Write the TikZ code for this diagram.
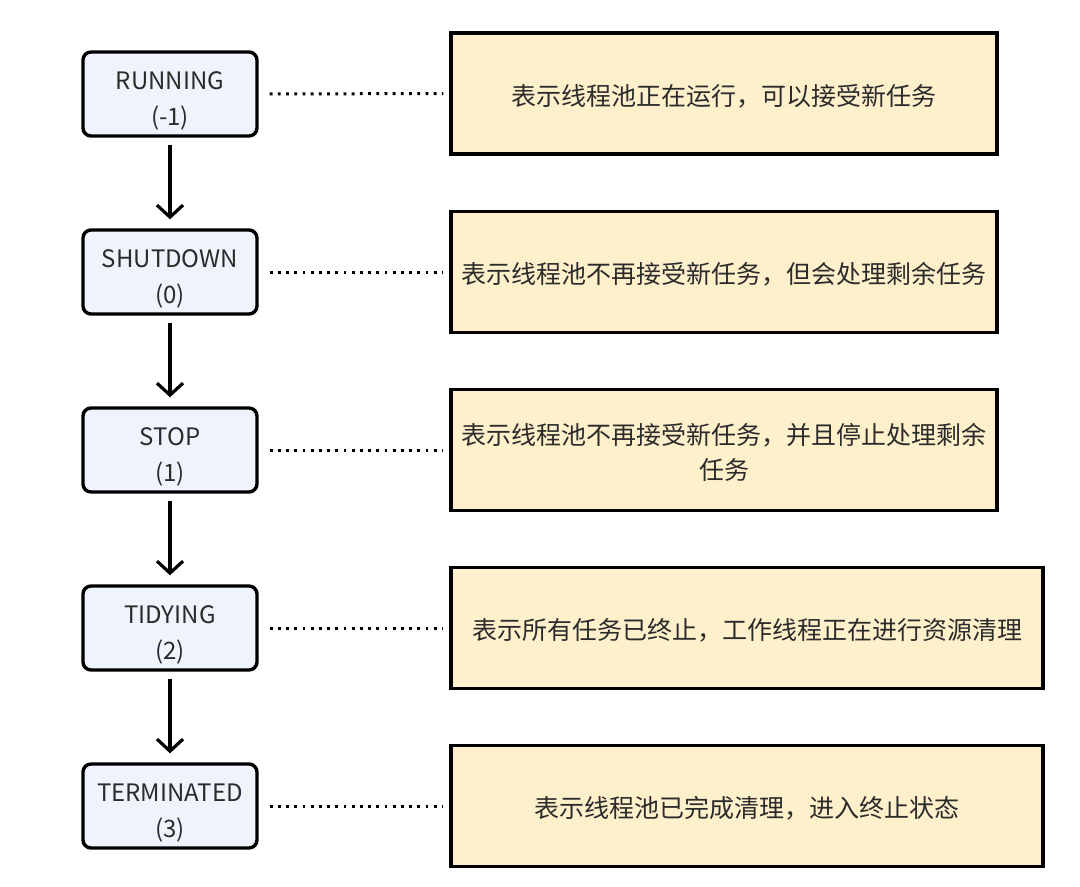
\documentclass[tikz,border=0pt]{standalone}
\usepackage{fontspec}
\setmainfont{Noto Sans CJK SC}
\usetikzlibrary{arrows.meta}
\definecolor{txt}{HTML}{2B2B2B}
\definecolor{statefill}{HTML}{EEF3FC}
\definecolor{notefill}{HTML}{FFF0CC}
\tikzset{
  statebox/.style={draw=black, line width=3.4pt, fill=statefill, rounded corners=8pt,
    minimum width=174pt, minimum height=84pt, inner sep=0pt},
  statetext/.style={align=center, text=txt, yshift=-7pt, inner sep=0pt,
    font=\fontsize{24pt}{36pt}\selectfont},
  notebox/.style={draw=black, line width=3.2pt, fill=notefill,
    minimum height=121pt, inner sep=0pt},
  notetext/.style={align=center, text=txt, yshift=-2.5pt, inner sep=0pt,
    font=\fontsize{25pt}{35pt}\selectfont},
  flow/.style={draw=black, line width=3.2pt, -{Straight Barb[length=12pt,width=26pt,line width=3.2pt]},
    shorten <=7pt, shorten >=9pt},
  link/.style={draw=black, line width=3pt, dash pattern=on 2.8pt off 5.4pt,
    shorten <=11pt, shorten >=6pt}
}
\begin{document}
\begin{tikzpicture}[x=1pt,y=-1pt]
\useasboundingbox (0,0) rectangle (1080,887);
\fill[white] (0,0) rectangle (1080,887);
\node[statebox, label={[statetext]center:RUNNING\\(-1)}] (s1) at (170,94) {};
\node[statebox, label={[statetext]center:SHUTDOWN\\(0)}] (s2) at (170,272) {};
\node[statebox, label={[statetext]center:STOP\\(1)}] (s3) at (170,450) {};
\node[statebox, label={[statetext]center:TIDYING\\(2)}] (s4) at (170,628) {};
\node[statebox, label={[statetext]center:TERMINATED\\(3)}] (s5) at (170,806) {};
\node[notebox, minimum width=546pt, label={[notetext]center:表示线程池正在运行，可以接受新任务}] (n1) at (724,93.5) {};
\node[notebox, minimum width=546pt, label={[notetext]center:表示线程池不再接受新任务，但会处理剩余任务}] (n2) at (724,272) {};
\node[notebox, minimum width=546pt, label={[notetext]center:表示线程池不再接受新任务，并且停止处理剩余\\任务}] (n3) at (724,450) {};
\node[notebox, minimum width=592pt, label={[notetext]center:表示所有任务已终止，工作线程正在进行资源清理}] (n4) at (747,628) {};
\node[notebox, minimum width=592pt, label={[notetext]center:表示线程池已完成清理，进入终止状态}] (n5) at (747,806) {};
\draw[flow] (s1) -- (s2);
\draw[flow] (s2) -- (s3);
\draw[flow] (s3) -- (s4);
\draw[flow] (s4) -- (s5);
\draw[link] (s1.east) -- (n1.west);
\draw[link] (s2.east) -- (n2.west);
\draw[link] (s3.east) -- (n3.west);
\draw[link] (s4.east) -- (n4.west);
\draw[link] (s5.east) -- (n5.west);
\end{tikzpicture}
\end{document}
